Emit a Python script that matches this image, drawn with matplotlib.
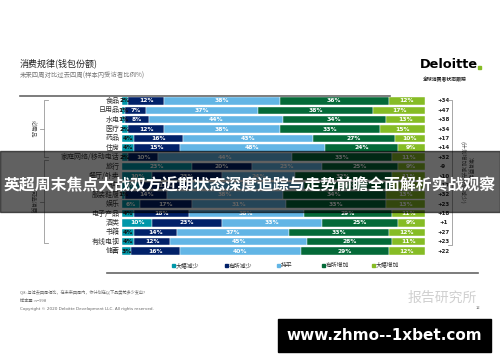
import matplotlib
matplotlib.use("Agg")
import matplotlib.pyplot as plt
from matplotlib.patches import Rectangle
import numpy as np

plt.rcParams['font.family'] = ['Noto Sans CJK SC', 'DejaVu Sans']

categories = ["食品", "日用品", "水电", "医疗", "药品", "住房", "家庭网络/移动电话", "旅行",
              "餐厅/外卖", "汽车", "服装鞋履", "娱乐", "电子产品", "酒类", "书籍", "有线电视", "储蓄"]
big_dec = [2, 1, 1, 2, 4, 4, 2, 23, 10, 6, 1, 6, 4, 10, 4, 4, 3]
some_dec = [12, 7, 8, 12, 16, 15, 10, 20, 23, 17, 14, 17, 18, 23, 14, 12, 16]
same = [38, 37, 44, 38, 43, 48, 44, 23, 24, 37, 38, 31, 38, 33, 37, 45, 40]
some_inc = [36, 38, 34, 33, 27, 24, 33, 25, 32, 29, 34, 33, 29, 25, 33, 28, 29]
big_inc = [12, 17, 13, 15, 10, 9, 11, 9, 11, 11, 13, 13, 11, 9, 12, 11, 12]
net = ["+34", "+47", "+38", "+34", "+17", "+14", "+32", "-9", "+10", "+17", "+32", "+23",
       "+18", "+1", "+27", "+23", "+22"]
series_names = ["大幅减少", "有所减少", "持平", "有所增加", "大幅增加"]
colors = ["#0097A9", "#012169", "#62B5E5", "#046A38", "#86BC25"]

W, H = 500, 362
fig = plt.figure(figsize=(W / 100, H / 100), dpi=100)
fig.patch.set_facecolor("white")

def fx(x):
    return x / W

def fy(y):
    return 1 - y / H

# Bar axes
top_px, bot_px = 96.3, 255.7
ax = fig.add_axes([fx(122), fy(bot_px), fx(425) - fx(122), (bot_px - top_px) / H])
n = len(categories)
y = np.arange(n)
left = np.zeros(n)
data = [big_dec, some_dec, same, some_inc, big_inc]
for vals, col in zip(data, colors):
    vals = np.array(vals, dtype=float)
    ax.barh(y, vals, left=left, height=0.8, color=col, edgecolor="white", linewidth=0.3)
    for i, v in enumerate(vals):
        tc = "white" if v >= 5 else "#111111"
        ax.text(left[i] + v / 2, i, f"{int(v)}%", ha="center", va="center",
                fontsize=4.3, color=tc, fontweight="bold", family="DejaVu Sans")
    left += vals
ax.set_xlim(0, 100)
ax.set_ylim(n - 0.5, -0.5)
ax.axis("off")

for i, c in enumerate(categories):
    ax.text(-0.8, i, c, ha="right", va="center", fontsize=5, color="#333333")
    ax.text(106, i, net[i], ha="center", va="center", fontsize=4, color="#222222",
            fontweight="bold", family="DejaVu Sans")

# Header
fig.text(fx(20), fy(63), "消费规律(钱包份额)", fontsize=6.5, color="#222222", va="center")
fig.text(fx(20), fy(76), "未来四周对比过去四周(样本内受访者比例%)", fontsize=4.6, color="#777777", va="center")
fig.text(fx(420), fy(64), "Deloitte", fontsize=9.3, fontweight="bold", color="#000000",
         va="center", family="DejaVu Sans")
fig.add_artist(Rectangle((fx(478), fy(69)), 3 / W, 3 / H, color="#86BC25"))
fig.text(fx(423), fy(80), "全球消费者状态跟踪", fontsize=3.5, fontweight="bold", color="#222222", va="center")

# lines
fig.add_artist(plt.Line2D([fx(20), fx(390)], [fy(96), fy(96)], color="#666666", lw=1.2))
fig.add_artist(plt.Line2D([fx(107), fx(478)], [fy(273), fy(273)], color="#666666", lw=1.2))

# left brackets
for (y0, y1, lab) in [(100, 157, "必需品"), (160, 243, "可选消费")]:
    fig.add_artist(plt.Line2D([fx(48), fx(44), fx(44), fx(48)], [fy(y0), fy(y0), fy(y1), fy(y1)],
                              color="#999999", lw=0.6))
    fig.add_artist(plt.Line2D([fx(40), fx(44)], [fy((y0 + y1) / 2)] * 2, color="#999999", lw=0.6))
    fig.text(fx(33), fy((y0 + y1) / 2), lab, rotation=-90, fontsize=4.2, color="#555555",
             ha="center", va="center")
# right bracket
fig.add_artist(plt.Line2D([fx(448), fx(452), fx(452), fx(448)], [fy(100), fy(100), fy(245), fy(245)],
                          color="#999999", lw=0.6))
fig.text(fx(466), fy(172), "净消费意愿\n(计划增加减去计划减少)", rotation=-90, fontsize=4.2,
         color="#555555", ha="center", va="center", linespacing=1.2)

# legend
leg_x = [172, 225, 277, 322, 372]
for lx, name, col in zip(leg_x, series_names, colors):
    fig.add_artist(Rectangle((fx(lx), fy(267)), 3 / W, 3 / H, color=col))
    fig.text(fx(lx + 4), fy(265.5), name, fontsize=4.2, color="#333333", va="center")

# footer
fig.text(fx(20), fy(293), "Q8: 与过去四周相比，在未来四周内，你计划在以下品类花多少支出?", fontsize=3,
         color="#666666", va="center")
fig.text(fx(20), fy(301), "样本量: n=998", fontsize=3, color="#666666", va="center")
fig.text(fx(20), fy(309), "Copyright © 2020 Deloitte Development LLC. All rights reserved.",
         fontsize=3, color="#666666", va="center", family="DejaVu Sans")
fig.text(fx(442), fy(298), "报告研究所", fontsize=10, color="#d0d0d0", ha="center", va="center")
fig.text(fx(478), fy(308), "12", fontsize=3, color="#666666", ha="center", va="center")

# dark overlay band and banner title
fig.add_artist(Rectangle((0, fy(212)), 1, (212 - 151) / H, color="black", alpha=0.62, zorder=10))
fig.text(0.5, fy(185), "英超周末焦点大战双方近期状态深度追踪与走势前瞻全面解析实战观察",
         fontsize=11.4, fontweight="bold", color="white", ha="center", va="center", zorder=11)

# bottom black box
fig.add_artist(Rectangle((fx(278), fy(352)), (491 - 278) / W, (352 - 319) / H, color="black", zorder=10))
fig.text(fx(384.5), fy(335.5), "www.zhmo--1xbet.com", fontsize=11, fontweight="bold",
         color="white", ha="center", va="center", zorder=11, family="DejaVu Sans")

fig.savefig("out.png", dpi=100)
